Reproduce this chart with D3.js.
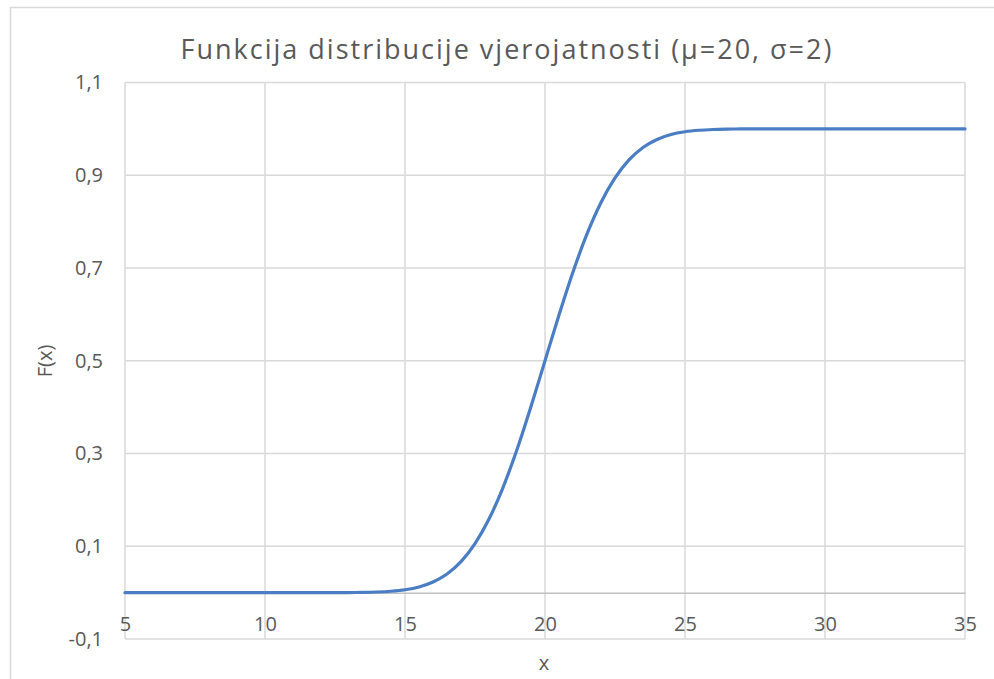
<!DOCTYPE html>
<meta charset="utf-8">
<script src="https://d3js.org/d3.v7.min.js"></script>
<style>
  body { margin: 0; background: #fff; }
  text { font-family: "Open Sans", "Noto Sans", sans-serif; fill: #595959; }
</style>
<div id="my_dataviz"></div>
<script>

// values (x, F(x))
var xVals = [5, 6, 7, 8, 9, 10, 11, 12, 13, 13.5, 14, 14.5, 15, 15.5, 16, 16.5, 17, 17.5, 18, 18.5, 19, 19.5,
             20, 20.5, 21, 21.5, 22, 22.5, 23, 23.5, 24, 24.5, 25, 25.5, 26, 26.5, 27, 28, 29, 30, 31, 32, 33, 34, 35];
var fVals = [0, 0, 0, 0, 0, 0, 0, 0, 0.0002, 0.0005, 0.0013, 0.003, 0.0062, 0.0122, 0.0228, 0.0401, 0.0668, 0.1057, 0.1587, 0.2266, 0.3085, 0.4013,
             0.5, 0.5987, 0.6915, 0.7734, 0.8413, 0.8943, 0.9332, 0.9599, 0.9772, 0.9878, 0.9938, 0.997, 0.9987, 0.9995, 0.9998, 1, 1, 1, 1, 1, 1, 1, 1];
var xTicks = [5, 10, 15, 20, 25, 30, 35];
var yTicks = [-0.1, 0.1, 0.3, 0.5, 0.7, 0.9, 1.1];

var titleText = "Funkcija distribucije vjerojatnosti (μ=20, σ=2)";

var W = 994, H = 679;
var margin = {top: 82.5, right: 29, bottom: 40, left: 125};
var width = 965 - margin.left,
    height = 639 - margin.top;

var root = d3.select("#my_dataviz")
  .append("svg")
    .attr("width", W)
    .attr("height", H);

// chart border
root.append("rect")
  .attr("x", 10.5).attr("y", 7.5)
  .attr("width", 990).attr("height", 700)
  .attr("fill", "none")
  .attr("stroke", "#d9d9d9")
  .attr("stroke-width", 1.5);

var svg = root.append("g")
  .attr("transform", "translate(" + margin.left + "," + margin.top + ")");

var x = d3.scaleLinear().domain([5, 35]).range([0, width]);
var y = d3.scaleLinear().domain([-0.1, 1.1]).range([height, 0]);

// comma decimals, plain hyphen for the minus sign
var fmt = function(d) { return d.toFixed(1).replace(".", ","); };

// gridlines
svg.append("g")
  .selectAll("line.h")
  .data(yTicks)
  .enter().append("line")
    .attr("x1", 0).attr("x2", width)
    .attr("y1", function(d) { return y(d); })
    .attr("y2", function(d) { return y(d); })
    .attr("stroke", "#d9d9d9")
    .attr("stroke-width", 1.5);

svg.append("g")
  .selectAll("line.v")
  .data(xTicks)
  .enter().append("line")
    .attr("x1", function(d) { return x(d); })
    .attr("x2", function(d) { return x(d); })
    .attr("y1", 0).attr("y2", height)
    .attr("stroke", "#d9d9d9")
    .attr("stroke-width", 1.5);

// horizontal axis crossing at 0
var xAxis = svg.append("g")
  .attr("transform", "translate(0," + y(0) + ")")
  .call(d3.axisBottom(x).tickValues(xTicks).tickSize(0).tickPadding(24).tickFormat(d3.format("d")));
xAxis.select(".domain").attr("stroke", "#bfbfbf").attr("stroke-width", 1.5);
xAxis.selectAll("text").style("font-size", "20px").attr("fill", "#595959");

// vertical axis labels
var yAxis = svg.append("g")
  .call(d3.axisLeft(y).tickValues(yTicks).tickSize(0).tickPadding(22).tickFormat(fmt));
yAxis.select(".domain").remove();
yAxis.selectAll("text").style("font-size", "20px").attr("fill", "#595959");

// the curve
var line = d3.line()
  .x(function(d, i) { return x(xVals[i]); })
  .y(function(d) { return y(d); })
  .curve(d3.curveMonotoneX);

svg.append("path")
  .datum(fVals)
  .attr("fill", "none")
  .attr("stroke", "#4a7dc4")
  .attr("stroke-width", 3.2)
  .attr("stroke-linecap", "round")
  .attr("d", line);

// title
root.append("text")
  .attr("x", 507)
  .attr("y", 59)
  .attr("text-anchor", "middle")
  .style("font-size", "27px")
  .style("letter-spacing", "2px")
  .text(titleText);

// axis titles
root.append("text")
  .attr("x", 544)
  .attr("y", 670)
  .attr("text-anchor", "middle")
  .style("font-size", "20px")
  .text("x");

root.append("text")
  .attr("transform", "translate(52,361) rotate(-90)")
  .attr("text-anchor", "middle")
  .style("font-size", "20px")
  .text("F(x)");

</script>
